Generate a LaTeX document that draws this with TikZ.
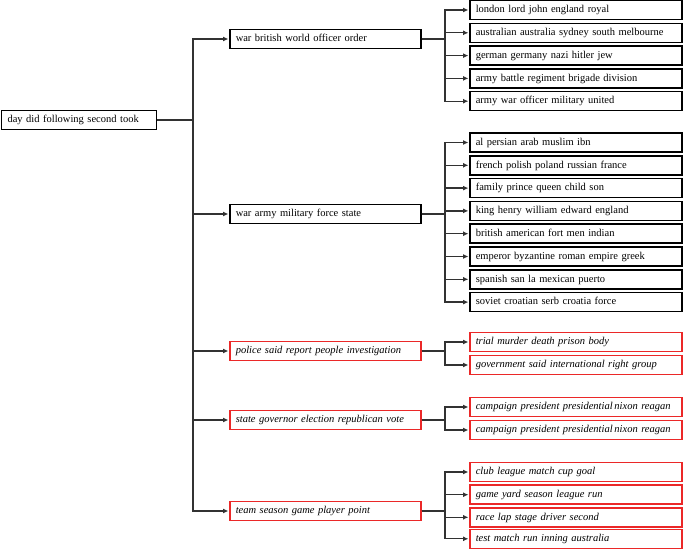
\documentclass[tikz,border=0pt]{standalone}
\usepackage{fontspec}
\setmainfont{Liberation Serif}
\usetikzlibrary{arrows.meta}
\definecolor{boxred}{RGB}{235,40,40}
\definecolor{linegray}{RGB}{50,50,50}
\begin{document}
\begin{tikzpicture}[x=1pt,y=-1pt,
  base/.style={draw=black,line width=1.5pt,minimum height=19pt,anchor=west,align=left,
    font=\fontsize{10.5}{12}\selectfont,inner xsep=6pt,inner ysep=0pt,text height=7.5pt,text depth=2pt},
  rootbox/.style={base,text width=143pt},
  lone/.style={base,text width=179pt},
  ltwo/.style={base,text width=200pt},
  redbox/.style={draw=boxred,line width=1.6pt,font=\fontsize{10.5}{12}\selectfont\itshape},
  conn/.style={draw=linegray,line width=1.3pt},
  arr/.style={conn,-{Latex[length=5.5pt,width=5pt]},shorten >=0.5pt}
]
\useasboundingbox (0,0) rectangle (685,549);
\coordinate (trunk) at (193,0);
\coordinate (br) at (445,0);

\node[rootbox] (root) at (0.8,120) {day did following second took};

\node[lone] (a) at (229,39) {war british world officer order};
\node[lone] (b) at (229,214) {war army military force state};
\node[lone,redbox] (c) at (229,351) {police said report people investigation};
\node[lone,redbox] (d) at (229,420) {state governor election republican vote};
\node[lone,redbox] (e) at (229,511) {team season game player point};

\foreach \n in {a,b,c,d,e}
  \draw[arr] (root.east) -- (root.east -| trunk) |- (\n.west);

% group a
\node[ltwo] (a1) at (469,10) {london lord john england royal};
\node[ltwo] (a2) at (469,32.8) {australian australia sydney south melbourne};
\node[ltwo] (a3) at (469,55.6) {german germany nazi hitler jew};
\node[ltwo] (a4) at (469,78.4) {army battle regiment brigade division};
\node[ltwo] (a5) at (469,101.2) {army war officer military united};
\foreach \n in {a1,a2,a3,a4,a5}
  \draw[arr] (a.east) -- (a.east -| br) |- (\n.west);

% group b
\node[ltwo] (b1) at (469,142.5) {al persian arab muslim ibn};
\node[ltwo] (b2) at (469,165.3) {french polish poland russian france};
\node[ltwo] (b3) at (469,188.1) {family prince queen child son};
\node[ltwo] (b4) at (469,210.9) {king henry william edward england};
\node[ltwo] (b5) at (469,233.7) {british american fort men indian};
\node[ltwo] (b6) at (469,256.5) {emperor byzantine roman empire greek};
\node[ltwo] (b7) at (469,279.3) {spanish san la mexican puerto};
\node[ltwo] (b8) at (469,302.1) {soviet croatian serb croatia force};
\foreach \n in {b1,b2,b3,b4,b5,b6,b7,b8}
  \draw[arr] (b.east) -- (b.east -| br) |- (\n.west);

% group c
\node[ltwo,redbox] (c1) at (469,342) {trial murder death prison body};
\node[ltwo,redbox] (c2) at (469,365) {government said international right group};
\foreach \n in {c1,c2}
  \draw[arr] (c.east) -- (c.east -| br) |- (\n.west);

% group d
\node[ltwo,redbox] (d1) at (469,407) {campaign president presidential\,nixon reagan};
\node[ltwo,redbox] (d2) at (469,430) {campaign president presidential\,nixon reagan};
\foreach \n in {d1,d2}
  \draw[arr] (d.east) -- (d.east -| br) |- (\n.west);

% group e
\node[ltwo,redbox] (e1) at (469,472) {club league match cup goal};
\node[ltwo,redbox] (e2) at (469,494.7) {game yard season league run};
\node[ltwo,redbox] (e3) at (469,517.3) {race lap stage driver second};
\node[ltwo,redbox] (e4) at (469,538.8) {test match run inning australia};
\foreach \n in {e1,e2,e3,e4}
  \draw[arr] (e.east) -- (e.east -| br) |- (\n.west);
\end{tikzpicture}
\end{document}
